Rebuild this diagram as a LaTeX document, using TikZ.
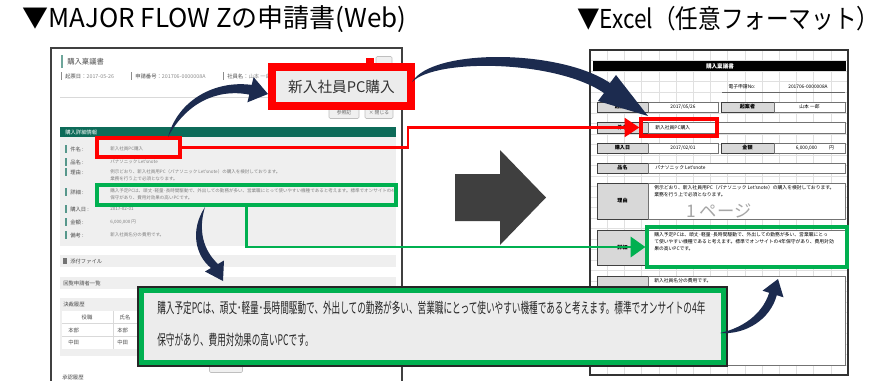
\documentclass[tikz,border=0pt]{standalone}
\usepackage{fontspec}
\setmainfont{Noto Sans CJK JP}
\newfontfamily\narrowjp[FakeStretch=0.588]{Noto Sans CJK JP}
\usetikzlibrary{positioning,calc,arrows.meta}
\definecolor{formteal}{HTML}{0D6B59}
\definecolor{markred}{HTML}{FF0000}
\definecolor{markgreen}{HTML}{00B050}
\definecolor{navyarr}{HTML}{1C2B4F}
\definecolor{flowgray}{HTML}{3F3F3F}
\definecolor{panelgray}{HTML}{EFEFEF}
\definecolor{cellgray}{HTML}{D8D8D8}
\definecolor{callgray}{HTML}{ECECEC}

\begin{document}
\begin{tikzpicture}[x=0.75pt,y=-0.75pt,
    ttl/.style={font=\fontsize{19.5}{24}\selectfont,inner sep=0pt,anchor=west},
    wlab/.style={font=\fontsize{4}{4.8}\selectfont,text=black!70,inner sep=0pt,anchor=west},
    wval/.style={font=\fontsize{3.4}{5.4}\selectfont,text=black!50,inner sep=0pt,anchor=west,align=left},
    webbtn/.style={draw=black!25,fill=black!6,rounded corners=1pt,font=\fontsize{3.6}{4}\selectfont,text=black!60,minimum width=30*0.75pt,minimum height=11*0.75pt,inner sep=0pt},
    xlab/.style={draw=black!75,fill=cellgray,line width=0.4pt,font=\bfseries\fontsize{3.8}{4.5}\selectfont,inner sep=0pt,minimum width=51*0.75pt,minimum height=10*0.75pt},
    xval/.style={draw=black!55,fill=white,line width=0.4pt,font=\fontsize{3.6}{4.5}\selectfont,inner sep=0pt,minimum height=10*0.75pt},
    xtxt/.style={font=\fontsize{3.6}{5.4}\selectfont,inner sep=0pt,align=left},
    redmark/.style={draw=markred,line width=2.4pt,inner sep=0pt},
    greenmark/.style={draw=markgreen,line width=2.4pt,inner sep=0pt},
    redline/.style={markred,line width=2.2pt,-{Triangle[length=11pt,width=14pt]}},
    greenline/.style={markgreen,line width=2.2pt,-{Triangle[length=11pt,width=15pt]}},
  ]
\useasboundingbox (0,0) rectangle (882,380);
\fill[white] (0,0) rectangle (882,380);

\node[ttl] (webttl) at (22,19) {▼MAJOR FLOW Zの申請書(Web)};
\node[ttl] (xlsttl) at (577,19) {\scalebox{0.87}[1]{▼Excel（任意フォーマット）}};

% web form
\draw[black!75,line width=1.2pt] (51,48) rectangle (402,395);
\fill[formteal!60] (61,55) rectangle (63,68);
\node[wlab,font=\fontsize{5.5}{6}\selectfont] (wform) at (67,62) {購入稟議書};
\fill[markred] (366,58) rectangle (374,67);
\node[webbtn,minimum width=16*0.75pt] (wprint) at (384,62) {};
\foreach \bx/\lab/\val [count=\i] in {61/起票日：/2017-05-26,131/申請番号：/201706-0000008A,223/社員名：/山本 一郎}{
  \fill[black!45] (\bx,72) rectangle (\bx+1,80);
  \node[wlab] (meta\i) at (\bx+4,76) {\lab\textcolor{black!45}{\val}};
}
\draw[black!15] (60,97) -- (396,97);
\node[webbtn] (wsearch) at (344,113) {参照記};
\node[webbtn,minimum width=28*0.75pt] (wclose) at (379,113) {× 閉じる};
\fill[formteal] (60,127) rectangle (396,137);
\node[wlab,text=white] (whead) at (65,132) {購入詳細情報};
\fill[panelgray] (60,137) rectangle (396,246);
\foreach \y/\lab [count=\i] in {149/件名,162/品名,172/理由,192/詳細,209/購入日,222/金額,235/備考}{
  \fill[formteal!70] (65,\y-4) rectangle (66.5,\y+4);
  \node[wlab] (wrow\i) at (70,\y) {\lab\ :};
}
\node[wval] (wsubj) at (110,149) {新入社員PC購入};
\node[wval] (wprod) at (110,162) {パナソニック Let'snote};
\node[wval,anchor=north west] (wwhy) at (110,169) {例示どおり、新入社員用PC（パナソニック Let'snote）の購入を検討しております。\\業務を行う上で必須となります。};
\node[wval,anchor=north west] (wdet) at (110,188) {購入予定PCは、頑丈･軽量･長時間駆動で、外出しての勤務が多い、営業職にとって使いやすい機種であると考えます。標準でオンサイトの4年\\保守があり、費用対効果の高いPCです。};
\node[wval] (wdate) at (110,209) {2017-02-01};
\node[wval] (wcost) at (110,222) {6,000,000 円};
\node[wval] (wnote) at (110,235) {新入社員名分の費用です。};
\fill[panelgray] (60,255) rectangle (396,267);
\fill[black!55] (63,258) rectangle (67,264);
\node[wlab] (wattach) at (70,261) {添付ファイル};
\fill[panelgray] (60,277) rectangle (396,289);
\node[wlab] (wcirc) at (63,283) {回覧申請者一覧};
\fill[panelgray] (60,298) rectangle (396,356);
\node[wlab] (whist) at (63,304) {決裁履歴};
\fill[white] (62,311) rectangle (394,349);
\draw[black!15] (113,311) -- (113,349) (62,323) -- (394,323) (62,336) -- (394,336);
\node[wlab,anchor=center] (th1) at (87,317) {役職};
\node[wlab,anchor=center] (th2) at (125,317) {氏名};
\node[wlab] (td1) at (68,330) {本部};
\node[wlab] (td2) at (117,330) {本部};
\node[wlab] (td3) at (68,342) {中田};
\node[wlab] (td4) at (117,342) {中田};
\node[webbtn,minimum width=33*0.75pt,minimum height=9*0.75pt] (wbtn) at (226,368) {};
\node[wlab] (wappr) at (62,378) {承認履歴};

% excel sheet
\fill[white] (590,50) rectangle (848,375);
\foreach \gx in {1,...,14} \draw[black!12,line width=0.3pt] ({590+17.2*\gx},50) -- ++(0,325);
\foreach \gy in {1,...,30} \draw[black!12,line width=0.3pt] (590,{50+10.5*\gy}) -- ++(258,0);
\draw[black!80,line width=0.9pt] (590,50) rectangle (848,375);
\fill[black] (593,61) rectangle (846,71);
\node[font=\bfseries\fontsize{4.2}{5}\selectfont,text=white,inner sep=0pt] (xform) at (720,66) {購入稟議書};
\node[xtxt] (xnolab) at (742,87) {電子申請No:};
\node[xtxt] (xno) at (808,87) {201706-0000008A};
\draw[black!60,line width=0.4pt] (722,92.5) -- (845,92.5);
\path (622.5,107) node[xlab] (xl1) {起票日}
      (683,107) node[xval,minimum width=70*0.75pt] (xv1) {2017/05/26}
      (747.5,107) node[xlab,minimum width=53*0.75pt] (xl2) {起案者}
      (809.5,107) node[xval,minimum width=71*0.75pt] (xv2) {山本 一郎}
      (622.5,127.5) node[xlab,minimum height=11*0.75pt] (xl3) {件名}
      (746.5,127.5) node[xval,minimum width=197*0.75pt,minimum height=11*0.75pt] (xv3) {}
      (622.5,148) node[xlab] (xl4) {購入日}
      (683,148) node[xval,minimum width=70*0.75pt] (xv4) {2017/02/01}
      (747.5,148) node[xlab,minimum width=53*0.75pt] (xl5) {金額}
      (809.5,148) node[xval,minimum width=71*0.75pt] (xv5) {\hspace{8pt}6,000,000\hspace{9pt}円}
      (622.5,168) node[xlab] (xl6) {品名}
      (746.5,168) node[xval,minimum width=197*0.75pt] (xv6) {}
      (622.5,201) node[xlab,minimum height=36*0.75pt] (xl7) {理由}
      (746.5,201) node[xval,minimum width=197*0.75pt,minimum height=36*0.75pt] (xv7) {}
      (622.5,247.5) node[xlab,minimum height=35*0.75pt] (xl8) {詳細}
      (746.5,247.5) node[xval,minimum width=197*0.75pt,minimum height=35*0.75pt] (xv8) {}
      (622.5,320.5) node[xlab,minimum height=89*0.75pt] (xl9) {備考}
      (746.5,320.5) node[xval,minimum width=197*0.75pt,minimum height=89*0.75pt] (xv9) {};
\node[xtxt,anchor=west] (xsubj) at (655,127.5) {新入社員PC購入};
\node[xtxt,anchor=west] (xprod) at (655,168) {パナソニック Let'snote};
\node[xtxt,anchor=north west] (xwhy) at (654,185) {例示どおり、新入社員用PC（パナソニック Let'snote）の購入を検討しております。\\業務を行う上で必須となります。};
\node[font=\fontsize{13}{14}\selectfont,text=black!35,inner sep=0pt] (xpage) at (719,211) {1 ページ};
\node[xtxt,anchor=north west] (xdet) at (654,232) {購入予定PCは、頑丈･軽量･長時間駆動で、外出しての勤務が多い、営業職にとっ\\て使いやすい機種であると考えます。標準でオンサイトの4年保守があり、費用対効\\果の高いPCです。};
\node[xtxt,anchor=north west] (xnote) at (654,278) {新入社員名分の費用です。};

% marks and links
\node[redmark,minimum width=83*0.75pt,minimum height=19*0.75pt] (wred) at (138.5,147.5) {};
\node[greenmark,minimum width=299*0.75pt,minimum height=20*0.75pt] (wgreen) at (246.5,195) {};
\node[redmark,minimum width=76*0.75pt,minimum height=17*0.75pt] (xred) at (679,127.5) {};
\node[greenmark,minimum width=200*0.75pt,minimum height=40*0.75pt] (xgreen) at (747,247) {};
\coordinate (rturn) at (408,127.5);
\draw[redline] (wred.east) -| (rturn) -- (xred.west);
\draw[greenline] (wgreen.south) |- (xgreen.west);

\fill[flowgray] (455,174) -- (500,174) -- (500,150) -- (546,197.5) -- (500,245) -- (500,221) -- (455,221) -- cycle;

% callouts
\node[draw=markred,line width=6pt,fill=callgray,minimum width=139*0.75pt,minimum height=39*0.75pt,font=\fontsize{11}{13}\selectfont,text=black!80] (pcname) at (341.5,86.5) {新入社員PC購入};
\fill[black!85] (137,286) rectangle (728,367);
\node[draw=markgreen,line width=3.75pt,fill=callgray,minimum width=582*0.75pt,minimum height=72*0.75pt] (detail) at (432.5,326.5) {};
\node[anchor=north west,inner sep=0pt,align=left,font=\narrowjp\fontsize{11}{24}\selectfont,text=black!85] (detailtxt) at (157,301) {購入予定PCは、頑丈･軽量･長時間駆動で、外出しての勤務が多い、営業職にとって使いやすい機種であると考えます。標準でオンサイトの4年\\保守があり、費用対効果の高いPCです。};

% curved arrows
\fill[navyarr] (168,137) .. controls (178,100) and (215,80) .. (251.7,84.9) -- (253.6,77.1) -- (268,94) -- (247.4,102.3) -- (249.3,94.6) .. controls (215,88) and (185,105) .. (168,137) -- cycle;
\fill[navyarr] (412,82) .. controls (432,48) and (560,49) .. (610,83) -- (616,75) -- (648,116) -- (598,101) -- (604,93) .. controls (556,60) and (436,58) .. (412,82) -- cycle;
\fill[navyarr] (205,207) .. controls (190,230) and (195,255) .. (211,268) -- (205,271.5) -- (223,281) -- (224,260.5) -- (218,264) .. controls (203,250) and (198,230) .. (205,207) -- cycle;
\fill[navyarr] (720,333) .. controls (745,335) and (770,320) .. (776.8,295.2) -- (783.5,297.3) -- (778,279) -- (762.5,290.7) -- (769.2,292.8) .. controls (762,315) and (742,328) .. (720,333) -- cycle;
\end{tikzpicture}
\end{document}
